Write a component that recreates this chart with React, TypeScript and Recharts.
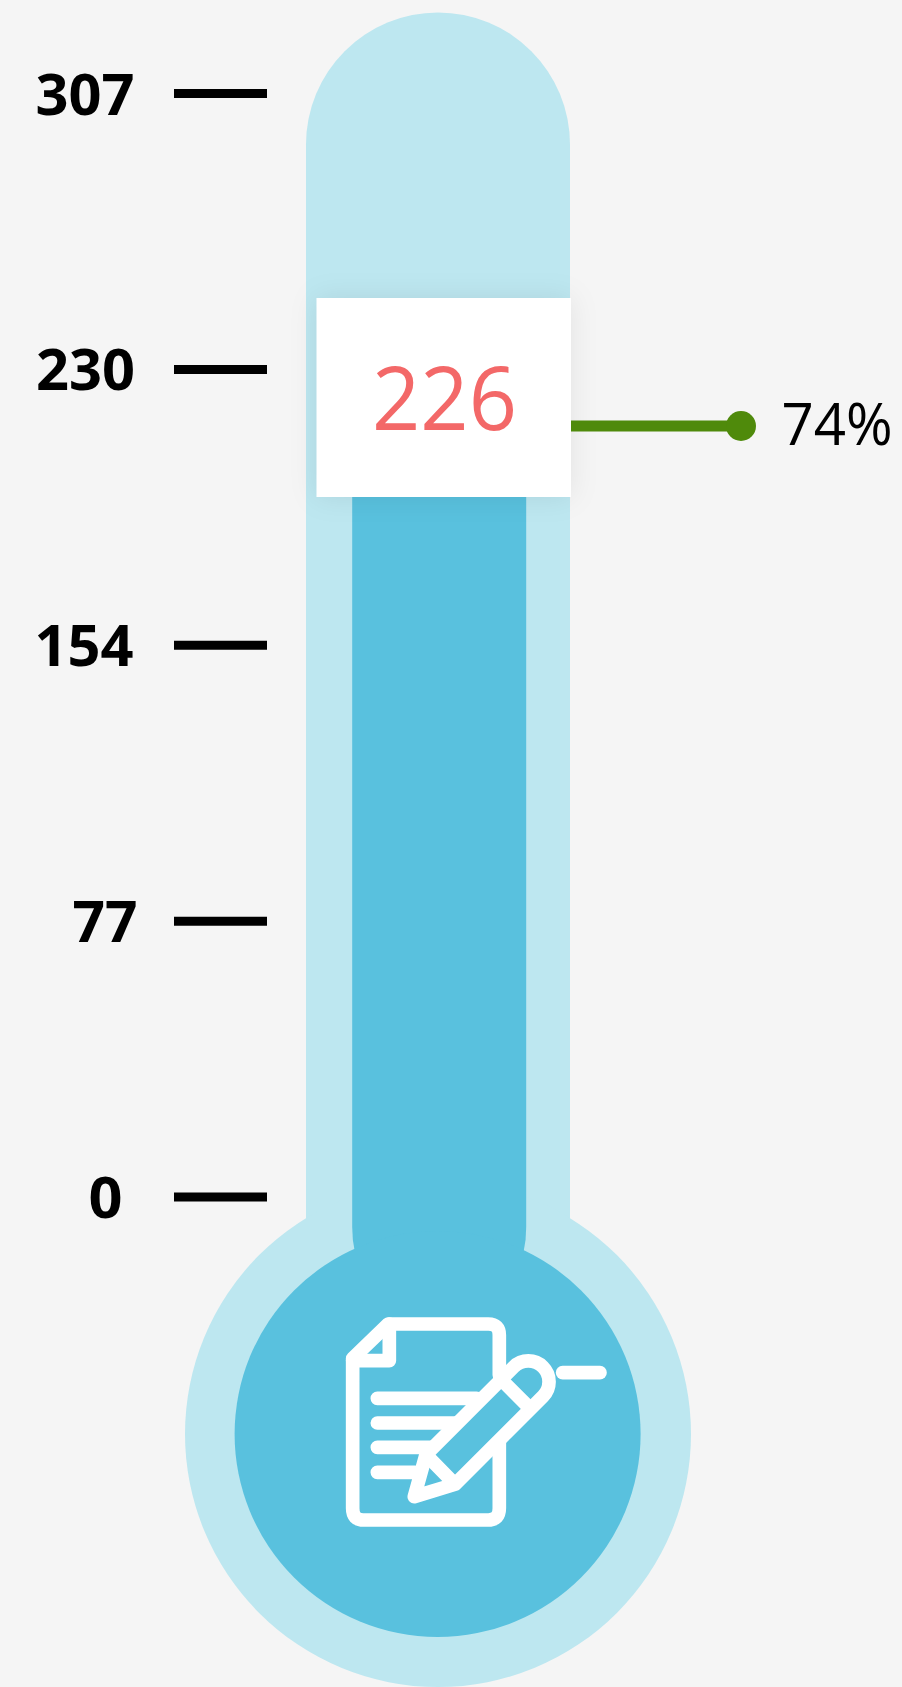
import React from "react";
import { ComposedChart, Bar, XAxis, YAxis } from "recharts";

const categories = ["Progress"];
const targetValues = [307];
const currentValues = [226];
const percentLabels = ["74%"];
const tickValues = [0, 76.75, 153.5, 230.25, 307];
const tickLabels = ["0", "77", "154", "230", "307"];

const chartData = categories.map((name, i) => ({
  name,
  target: targetValues[i],
  current: currentValues[i],
  percent: percentLabels[i],
}));

const W = 902;
const H = 1687;
const BG = "#F5F5F5";
const SHELL = "#BDE7F0";
const FILL = "#59C1DE";
const FONT = "'Open Sans', 'Noto Sans', sans-serif";
const BULB_CY = 1434;
const labelCenters = [105.6, 105, 84, 85.5, 85];
const labelWidths = [34, 65, 99, 99, 99];

function AxisTick(props: any) {
  const { y, index } = props;
  return (
    <text
      x={labelCenters[index]}
      y={y + 21}
      textAnchor="middle"
      fontFamily={FONT}
      fontWeight={700}
      fontSize={58}
      fill="#000"
      textLength={labelWidths[index]}
      lengthAdjust="spacingAndGlyphs"
    >
      {tickLabels[index]}
    </text>
  );
}

function GlassShape(props: any) {
  const { x, y, width } = props;
  const r = width / 2;
  const top = y - 81;
  return (
    <g>
      <path
        d={`M${x},${BULB_CY} V${top + r} A${r},${r} 0 0 1 ${x + width},${top + r} V${BULB_CY} Z`}
        fill={SHELL}
      />
      <circle cx={x + r} cy={BULB_CY} r={253} fill={SHELL} />
    </g>
  );
}

function NoteIcon() {
  return (
    <g
      transform="translate(320,1290) scale(0.3333)"
      fill="none"
      stroke="#fff"
      strokeWidth={41}
      strokeLinecap="round"
      strokeLinejoin="round"
    >
      <path d="M538,255 V135 Q538,102 505,102 H205 L98,205 V655 Q98,690 130,690 H505 Q538,690 538,655 V450" />
      <path d="M98,212 H208 V102" />
      <path d="M172,325 H470 M172,399 H410 M172,472 H340 M172,547 H285" />
      <path
        d="M581,231 A62,62 0 0 1 669,319 L405,583 L283,620 L318,494 Z"
        fill={FILL}
      />
      <path d="M322,498 L402,580 M543.5,268.5 L631.5,356.5" strokeLinecap="butt" />
      <path d="M728,248 H840" />
    </g>
  );
}

function FillShape(props: any) {
  const { x, y, width, payload } = props;
  const right = x + width;
  return (
    <g>
      <path
        d={`M${x},${y} H${right} V1227 Q${right},1240 ${right - 2.5},1251 H${x + 2.5} Q${x},1240 ${x},1227 Z`}
        fill={FILL}
      />
      <circle cx={x + width / 2 - 1.6} cy={BULB_CY} r={203} fill={FILL} />
      <NoteIcon />
      <rect
        x={316.5}
        y={298}
        width={254.5}
        height={199}
        fill="#fff"
        style={{ filter: "drop-shadow(0 0 14px rgba(0,0,0,0.08))" }}
      />
      <text
        x={444.5}
        y={430}
        textAnchor="middle"
        fontFamily={FONT}
        fontSize={87}
        fontWeight={500}
        fill="#F36868"
        textLength={145}
        lengthAdjust="spacingAndGlyphs"
      >
        {payload.current}
      </text>
      <line x1={571} x2={741} y1={426} y2={426} stroke="#4F8A0B" strokeWidth={11} />
      <circle cx={741} cy={426} r={15} fill="#4F8A0B" />
      <text
        x={781.5}
        y={445}
        fontFamily={FONT}
        fontSize={58}
        fill="#000"
        textLength={111}
        lengthAdjust="spacingAndGlyphs"
      >
        {payload.percent}
      </text>
    </g>
  );
}

export default function App() {
  return (
    <div style={{ width: W, height: H, background: BG, overflow: "hidden" }}>
      <style>{`html,body{margin:0;padding:0;background:${BG};overflow:hidden}`}</style>
      <ComposedChart
        width={W}
        height={H}
        data={chartData}
        margin={{ top: 93.5, right: 293, bottom: 490, left: 0 }}
      >
        <XAxis xAxisId="shell" dataKey="name" hide />
        <XAxis xAxisId="fill" dataKey="name" hide padding={{ left: 3.2, right: 0 }} />
        <YAxis
          width={267}
          domain={[0, 307]}
          ticks={tickValues}
          interval={0}
          axisLine={false}
          tickSize={93}
          tickLine={{ stroke: "#000", strokeWidth: 9 }}
          tick={<AxisTick />}
        />
        <Bar
          xAxisId="shell"
          dataKey="target"
          barSize={264}
          shape={<GlassShape />}
          isAnimationActive={false}
        />
        <Bar
          xAxisId="fill"
          dataKey="current"
          barSize={174}
          shape={<FillShape />}
          isAnimationActive={false}
        />
      </ComposedChart>
    </div>
  );
}
